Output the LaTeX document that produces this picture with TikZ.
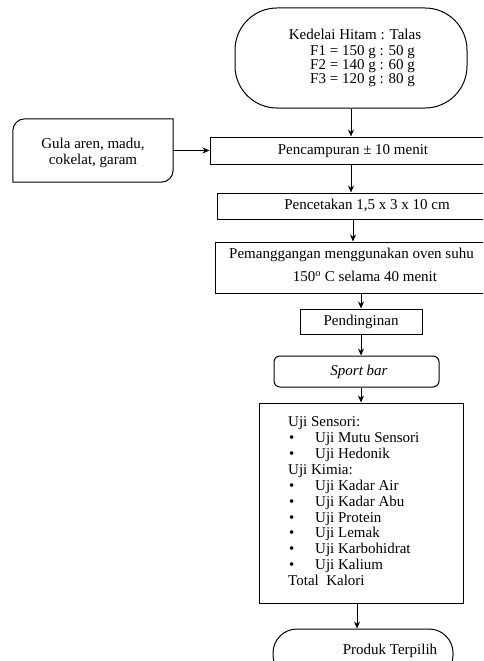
\documentclass[tikz,border=0pt]{standalone}
\usepackage{fontspec}
\setmainfont{Liberation Serif}
\usetikzlibrary{arrows.meta}
\begin{document}
\begin{tikzpicture}[x=1pt,y=-1pt,
  every node/.style={font=\fontsize{15}{16}\selectfont, inner sep=0pt},
  box/.style={draw, line width=1pt, rectangle},
  txt/.style={text height=10pt, text depth=3pt},
  arr/.style={line width=1pt, -{Stealth[length=7pt,width=6pt]}}]
\useasboundingbox (0,0) rectangle (483,661);
\clip (0,0) rectangle (483,661);
% top terminal
\node[box, rounded corners=42pt, minimum width=232pt, minimum height=100pt] (top) at (351,58) {};
\node[txt] (t1) at (355,36) {Kedelai Hitam : Talas};
\node[txt, anchor=west] (t2) at (310,52) {F1 = 150 g : 50 g};
\node[txt, anchor=west] (t3) at (310,66) {F2 = 140 g : 60 g};
\node[txt, anchor=west] (t4) at (310,80) {F3 = 120 g : 80 g};
% input box
\node[minimum width=160pt, minimum height=63pt] (gula) at (93,150.5) {};
\node[align=center] (gulat) at (93,153) {Gula aren, madu,\\[0pt] cokelat, garam};
\draw[line width=1pt] (gula.south west) -- ([yshift=-12pt]gula.north west)
  arc[start angle=180,end angle=90,radius=12pt] -- (gula.north east)
  -- ([yshift=12pt]gula.south east) arc[start angle=0,end angle=-90,radius=12pt] -- cycle;
% process boxes
\node[box, txt, minimum width=286pt, minimum height=27pt] (pc) at (353,150.5) {Pencampuran ± 10 menit};
\node[box, txt, minimum width=300pt, minimum height=26pt] (pe) at (367,206) {Pencetakan 1,5 x 3 x 10 cm};
\node[box, minimum width=274pt, minimum height=51pt] (pm) at (352,267.5) {};
\node[txt] (pm1) at (351.5,255) {Pemanggangan menggunakan oven suhu};
\node[txt] (pm2) at (365,278) {150\textsuperscript{o} C selama 40 menit};
\node[box, txt, minimum width=122pt, minimum height=25pt] (pd) at (361,321.5) {Pendinginan};
\node[box, rounded corners=6pt, minimum width=165pt, minimum height=31pt] (sb) at (356.5,371.5) {};
\node[txt] (sbt) at (359,372) {\itshape Sport bar};
\node[box, minimum width=204pt, minimum height=200pt] (uji) at (361,503) {};
\node[anchor=north west, align=left, font=\fontsize{15}{15.9}\selectfont] (list) at (288,416.5)
  {Uji Sensori:\\
   \makebox[27pt][l]{\hspace{1pt}\textbullet}Uji Mutu Sensori\\
   \makebox[27pt][l]{\hspace{1pt}\textbullet}Uji Hedonik\\
   Uji Kimia:\\
   \makebox[27pt][l]{\hspace{1pt}\textbullet}Uji Kadar Air\\
   \makebox[27pt][l]{\hspace{1pt}\textbullet}Uji Kadar Abu\\
   \makebox[27pt][l]{\hspace{1pt}\textbullet}Uji Protein\\
   \makebox[27pt][l]{\hspace{1pt}\textbullet}Uji Lemak\\
   \makebox[27pt][l]{\hspace{1pt}\textbullet}Uji Karbohidrat\\
   \makebox[27pt][l]{\hspace{1pt}\textbullet}Uji Kalium\\
   Total\ \ Kalori};
\node[box, rounded corners=24pt, minimum width=180pt, minimum height=50pt] (pr) at (363,654) {};
\node[txt] (prt) at (390,651) {Produk Terpilih};
% connectors
\draw[arr] (top.south) -- (top.south |- pc.north);
\draw[arr] (gula.east) -- (pc.west);
\draw[arr] (top.south |- pc.south) -- (top.south |- pe.north);
\draw[arr] ([xshift=2pt]top.south |- pe.south) -- ([xshift=2pt]top.south |- pm.north);
\draw[arr] (pm.south -| pd.north) -- (pd.north);
\draw[arr] (pd.south) -- (pd.south |- sb.north);
\draw[arr] (sb.south -| uji.north) -- (uji.north);
\draw[arr] ([xshift=-4pt]uji.south) -- ([xshift=-4pt]uji.south |- pr.north);
\end{tikzpicture}
\end{document}
